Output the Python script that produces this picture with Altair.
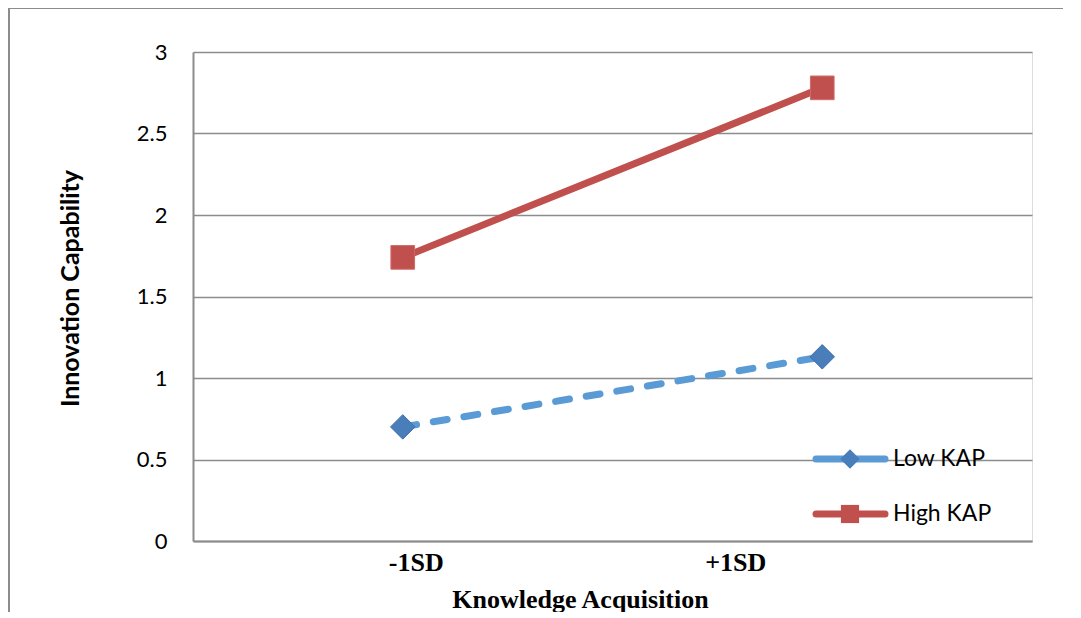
import altair as alt
import pandas as pd

categories = ["-1SD", "+1SD"]
series_names = ["Low KAP", "High KAP"]
low_kap = [0.70, 1.13]
high_kap = [1.74, 2.78]
y_ticks = [0, 0.5, 1, 1.5, 2, 2.5, 3]

df = pd.DataFrame({
    "x": categories * 2,
    "y": low_kap + high_kap,
    "series": [series_names[0]] * 2 + [series_names[1]] * 2,
})
low_df = df[df.series == series_names[0]]
high_df = df[df.series == series_names[1]]

BLUE_LINE = "#5B9BD5"
BLUE_MARK = "#4A7EBB"
RED = "#C0504D"
GRID = "#8C8C8C"
SANS = "Lato"
SERIF = "Liberation Serif"

xenc = alt.X("x:N", scale=alt.Scale(type="point", domain=categories, padding=0.5),
             sort=categories,
             axis=alt.Axis(title="Knowledge Acquisition", labelAngle=0, ticks=False,
                           labelFont=SERIF, labelFontWeight="bold", labelFontSize=26,
                           labelColor="black", labelPadding=8,
                           labelOffset={"condition": {"test": "datum.value === '+1SD'", "value": -87},
                                        "value": 13},
                           titleFont=SERIF, titleFontWeight="bold", titleFontSize=26,
                           titleColor="black", titleX=387, titleY=58,
                           titleBaseline="middle",
                           domainColor=GRID, domainWidth=2))
yenc = alt.Y("y:Q", scale=alt.Scale(domain=[0, 3], nice=False),
             axis=alt.Axis(title="Innovation Capability", values=y_ticks, ticks=False,
                           format="~g",
                           labelFont=SANS, labelFontSize=22, labelColor="black",
                           labelPadding=26, grid=True, gridColor=GRID, gridWidth=1.5,
                           titleFont=SANS, titleFontWeight="bold", titleFontSize=25,
                           titleColor="black", titleX=-110, titleY=236,
                           titleBaseline="bottom",
                           domainColor=GRID, domainWidth=2))

low_line = alt.Chart(low_df).mark_line(color=BLUE_LINE, strokeWidth=7,
                                        strokeDash=[14, 17], strokeCap="round").encode(x=xenc, y=yenc)
low_pts = alt.Chart(low_df).mark_point(shape="diamond", filled=True, size=600, opacity=1,
                                        color=BLUE_MARK, stroke="#3F6FA8", strokeWidth=1).encode(x=xenc, y=yenc)
high_line = alt.Chart(high_df).mark_line(color=RED, strokeWidth=7).encode(x=xenc, y=yenc)
high_pts = alt.Chart(high_df).mark_point(shape="square", filled=True, size=560, opacity=1,
                                          color=RED, stroke="#D06A67", strokeWidth=1).encode(x=xenc, y=yenc)

one = alt.Data(values=[{"a": 1}])

# legend (drawn)
leg = []
for i, (name, col, mcol, shape) in enumerate([
        (series_names[0], BLUE_LINE, BLUE_MARK, "diamond"),
        (series_names[1], RED, RED, "square")]):
    yy = 407 + i * 55
    leg.append(alt.Chart(one).mark_rule(color=col, strokeWidth=7, strokeCap="round").encode(
        x=alt.value(623), x2=alt.value(692), y=alt.value(yy)))
    leg.append(alt.Chart(one).mark_point(shape=shape, filled=True, opacity=1, color=mcol,
                                         size=380 if i == 0 else 330).encode(
        x=alt.value(657), y=alt.value(yy)))
    leg.append(alt.Chart(one).mark_text(text=name, align="left", baseline="middle",
                                        font=SANS, fontSize=23, color="black").encode(
        x=alt.value(700), y=alt.value(yy)))

frame_left = alt.Chart(one).mark_rule(color=GRID, strokeWidth=2).encode(
    x=alt.value(-184), y=alt.value(-44), y2=alt.value(560))
frame_top = alt.Chart(one).mark_rule(color=GRID, strokeWidth=2).encode(
    x=alt.value(-184), x2=alt.value(870), y=alt.value(-44))

chart = alt.layer(low_line, high_line, low_pts, high_pts, *leg, frame_left, frame_top).properties(
    width=839, height=489,
    autosize=alt.AutoSizeParams(type="none"),
    padding={"left": 185, "top": 44, "right": 40, "bottom": 71},
).configure_view(stroke=None).configure(background="white")

chart.save("out.html", embed_options={"renderer": "svg", "actions": False})
